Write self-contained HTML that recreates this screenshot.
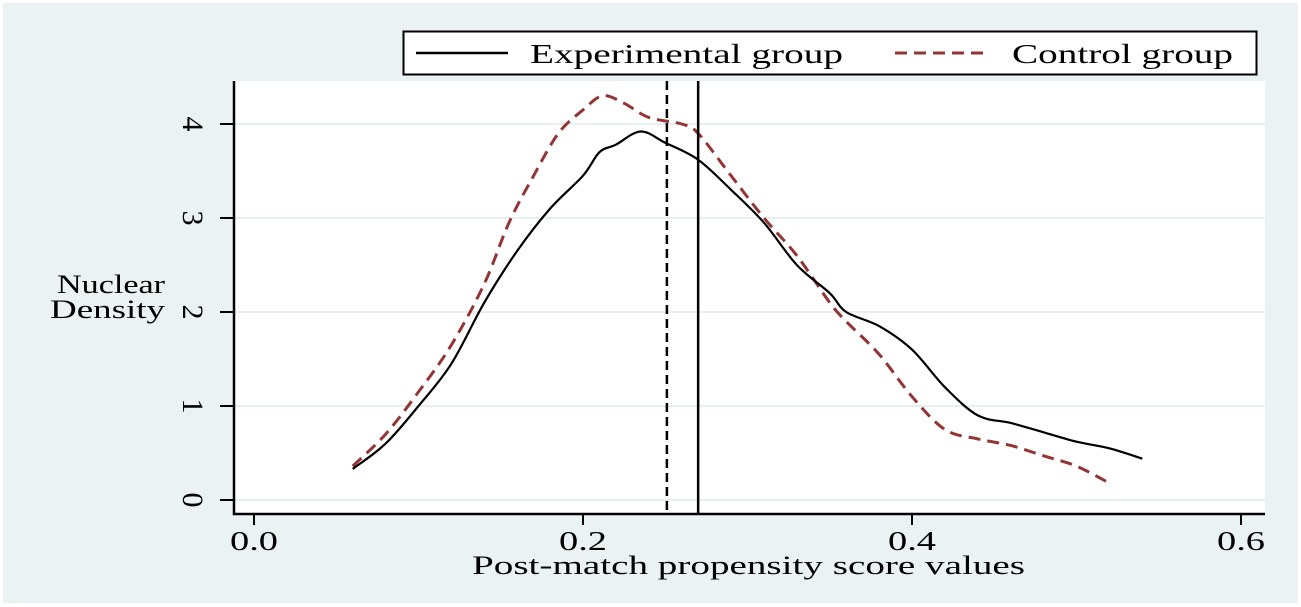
<!DOCTYPE html>
<html><head><meta charset="utf-8"><style>
body{margin:0;background:#fff;}
svg{display:block;font-family:"Liberation Serif",serif;}
</style></head><body>
<svg width="1301" height="607">
<rect x="3" y="3" width="1295" height="600" fill="#eaf2f3"/>
<rect x="234" y="81" width="1031" height="433" fill="#fff"/>
<g id="grid"></g>
<g id="curves"></g>
<g id="axes"></g>
<g>
<rect x="403.5" y="31.5" width="853" height="43" fill="#fff" stroke="#000" stroke-width="2"/>
<line x1="416" y1="53" x2="508" y2="53" stroke="#000" stroke-width="2.5"/>
<text x="530" y="63" font-size="27" textLength="313" lengthAdjust="spacingAndGlyphs">Experimental group</text>
<line x1="895" y1="53" x2="990" y2="53" stroke="#943535" stroke-width="3" stroke-dasharray="12,7"/>
<text x="1012" y="63" font-size="27" textLength="221" lengthAdjust="spacingAndGlyphs">Control group</text>
</g>
<text x="57" y="293" font-size="26" textLength="108" lengthAdjust="spacingAndGlyphs">Nuclear</text>
<text x="50" y="318" font-size="26" textLength="115" lengthAdjust="spacingAndGlyphs">Density</text>
<text x="472" y="574" font-size="26" textLength="553" lengthAdjust="spacingAndGlyphs">Post-match propensity score values</text>
</svg>
<script>
const xTicks=[0,0.2,0.4,0.6];
const xTickLabels=["0.0","0.2","0.4","0.6"];
const yTicks=[0,1,2,3,4];
const expX=[0.06,0.08,0.1,0.12,0.14,0.16,0.18,0.2,0.21,0.22,0.235,0.25,0.27,0.29,0.31,0.33,0.35,0.36,0.38,0.4,0.42,0.44,0.46,0.48,0.5,0.52,0.54];
const expY=[0.33,0.6,1.0,1.45,2.1,2.65,3.1,3.45,3.7,3.78,3.92,3.8,3.62,3.3,2.95,2.5,2.2,2.0,1.85,1.6,1.2,0.9,0.82,0.72,0.62,0.55,0.44];
const ctlX=[0.06,0.08,0.1,0.12,0.14,0.155,0.17,0.185,0.2,0.212,0.225,0.24,0.26,0.27,0.29,0.31,0.33,0.35,0.36,0.38,0.4,0.42,0.44,0.46,0.48,0.5,0.52];
const ctlY=[0.36,0.7,1.15,1.65,2.3,2.95,3.45,3.9,4.15,4.3,4.22,4.07,4.0,3.9,3.45,3.0,2.6,2.1,1.9,1.55,1.1,0.75,0.65,0.58,0.47,0.36,0.18];
const expMean=[0.27];
const ctlMean=[0.251];
const NS="http://www.w3.org/2000/svg";
const sx=v=>254+v*1645;
const sy=v=>500-v*94;
function mk(tag,attrs,parent){const e=document.createElementNS(NS,tag);for(const k in attrs)e.setAttribute(k,attrs[k]);document.getElementById(parent).appendChild(e);return e;}
yTicks.forEach(t=>{
 const g=mk('line',{x1:234,x2:1265,y1:sy(t),y2:sy(t),stroke:'#e6eff1','stroke-width':2},'grid');
 
 
 const tk=mk('line',{x1:220,x2:234,y1:sy(t),y2:sy(t),stroke:'#000','stroke-width':2},'axes');
 
 
 const tx=mk('text',{x:0,y:0,'font-size':30,'text-anchor':'middle',transform:`translate(${183},${sy(t)}) rotate(90)`},'axes');
 tx.textContent=t;
 
 
});
xTicks.forEach((t,i)=>{
 const tk=mk('line',{x1:sx(t),x2:sx(t),y1:514,y2:525,stroke:'#000','stroke-width':2},'axes');
 
 
 const tx=mk('text',{x:sx(t)-24,y:550,'font-size':27,textLength:48,lengthAdjust:'spacingAndGlyphs'},'axes');
 tx.textContent=xTickLabels[i];
 
 
});
const ya=mk('line',{x1:234,x2:234,y1:81,y2:515,stroke:'#000','stroke-width':2.5},'axes');


const xa=mk('line',{x1:233,x2:1265,y1:514,y2:514,stroke:'#000','stroke-width':2.5},'axes');


function smooth(X,Y){
 const P=X.map((x,i)=>[sx(x),sy(Y[i])]);
 let d='M'+P[0][0]+','+P[0][1];
 for(let i=0;i<P.length-1;i++){
  const p0=P[Math.max(0,i-1)],p1=P[i],p2=P[i+1],p3=P[Math.min(P.length-1,i+2)];
  const c1=[p1[0]+(p2[0]-p0[0])/6,p1[1]+(p2[1]-p0[1])/6];
  const c2=[p2[0]-(p3[0]-p1[0])/6,p2[1]-(p3[1]-p1[1])/6];
  d+=` C${c1[0]},${c1[1]} ${c2[0]},${c2[1]} ${p2[0]},${p2[1]}`;
 }
 return d;
}
const c=mk('path',{d:smooth(ctlX,ctlY),fill:'none',stroke:'#943535','stroke-width':3,'stroke-dasharray':'12,7'},'curves');


const e=mk('path',{d:smooth(expX,expY),fill:'none',stroke:'#000','stroke-width':2.2},'curves');


const mc=mk('line',{x1:sx(ctlMean[0]),x2:sx(ctlMean[0]),y1:81,y2:514,stroke:'#000','stroke-width':2.5,'stroke-dasharray':'9,5'},'curves');


const me=mk('line',{x1:sx(expMean[0]),x2:sx(expMean[0]),y1:81,y2:514,stroke:'#000','stroke-width':2.5},'curves');


</script>
</body></html>
